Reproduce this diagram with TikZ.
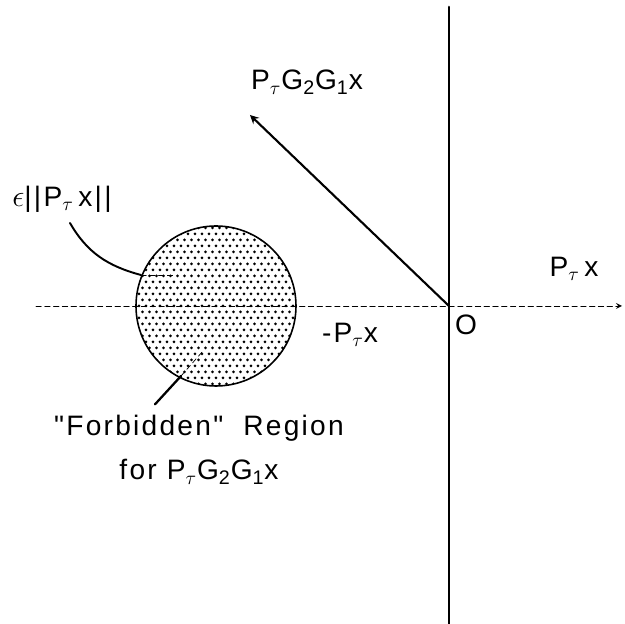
\documentclass[tikz,border=0pt]{standalone}
\usepackage{fontspec}
\setmainfont[LetterSpace=8, Ligatures=TeXOff]{Liberation Sans}
\begin{document}
\begin{tikzpicture}[font=\fontsize{16}{25}\selectfont, line join=round, line cap=round,>=stealth]
	\def\xmin{-8.98} \def\xmax{3.52}
	\def\ymin{-6.36} \def\ymax{6.12}
	\def\rad{1.6}
	\useasboundingbox (\xmin,\ymin) rectangle (\xmax,\ymax);
	\coordinate (O) at (0,0);
	\coordinate (C) at (-4.66,0);
	\coordinate (axl) at (-8.26,0);
	\coordinate (axr) at (3.46,0);
	\coordinate (vtop) at (0,5.98);
	\coordinate (vbot) at (0,\ymin);
	\coordinate (tip) at (-3.98,3.82);
	%dotted disc
	\begin{scope}
		\clip (C) circle (\rad);
		\foreach \j in {-14,...,14}
			\foreach \i in {-12,...,12}
				\fill ({-4.66+0.14*\i+0.07*mod(abs(\j),2)},{0.12*\j}) circle (.03);
	\end{scope}
	\draw[line width=.9pt] (C) circle (\rad);
	\draw[->, densely dashed, line width=.5pt] (axl)--(axr);
	\draw[line width=1.5pt] (vtop)--(vbot);
	\draw[->, line width=1.2pt] (O)--(tip);
	\node (vec) at (-2.84,4.48) {P$_\tau$G\textsubscript{2}G\textsubscript{1}x};
	\node (px) at (2.5,0.74) {P$_\tau$\,x};
	\node (mpx) at (-1.98,-0.58) {-P$_\tau$x};
	\node (orig) at (0.34,-0.38) {O};
	\node (eps) at (-7.74,2.14) {$\epsilon$||P$_\tau$\,x||};
	\node[align=center] (forb) at (-5.0,-2.88) {"Forbidden"\ \ Region\\for P$_\tau$G\textsubscript{2}G\textsubscript{1}x};
	%leaders
	\coordinate (eend) at (-6.16,0.62);
	\coordinate (fend) at (-5.36,-1.4);
	\draw[line width=1.1pt] ([shift={(0.16,-0.48)}]eps.center) to[out=-60,in=165] (eend);
	\draw[line width=.4pt, densely dashed] (eend)--++(0.7,0);
	\draw[line width=1.3pt] ([shift={(-0.88,0.1)}]forb.north)--(fend);
	\draw[line width=.4pt, densely dashed] (fend)--(-4.92,-0.9);
\end{tikzpicture}
\end{document}
